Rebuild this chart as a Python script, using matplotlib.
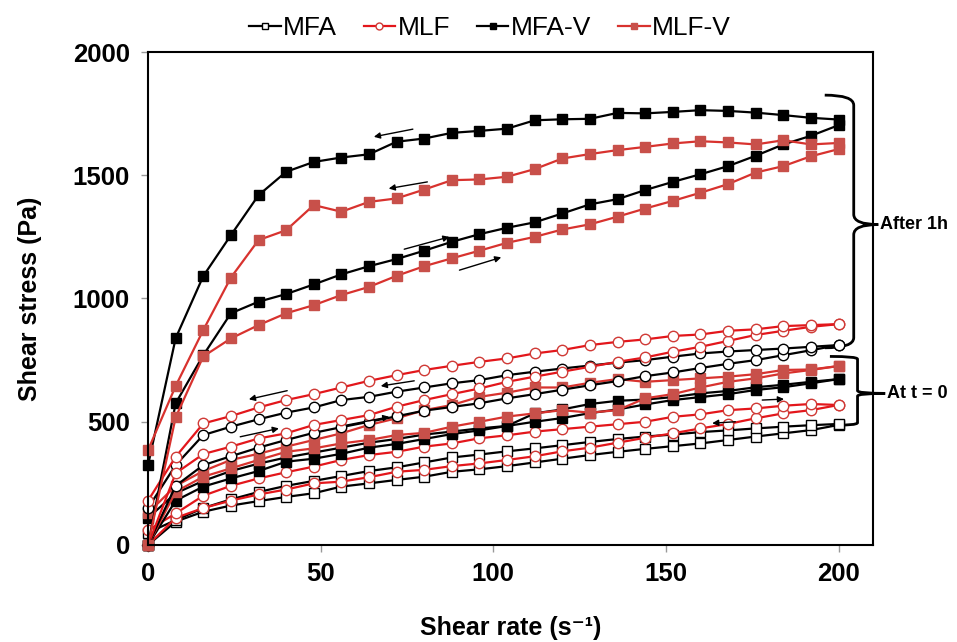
import matplotlib
matplotlib.use("Agg")
import matplotlib.pyplot as plt
from matplotlib.path import Path
from matplotlib.patches import PathPatch
from matplotlib.lines import Line2D

plt.rcParams['font.family'] = ['Liberation Sans', 'DejaVu Sans']

# shear rate grid (s-1), same for every curve
shear_rate = [0, 8, 16, 24, 32, 40, 48, 56, 64, 72, 80, 88, 96,
              104, 112, 120, 128, 136, 144, 152, 160, 168, 176, 184, 192, 200]

# ---- after 1h ----
mfa_v_1h_up = [0, 575, 770, 940, 987, 1018, 1057, 1098, 1131, 1160, 1194, 1230, 1261,
               1287, 1309, 1345, 1382, 1403, 1440, 1473, 1504, 1537, 1579, 1625, 1660, 1703]
mfa_v_1h_down = [324, 839, 1091, 1257, 1419, 1514, 1554, 1572, 1585, 1636, 1649, 1672, 1680,
                 1689, 1723, 1727, 1729, 1753, 1751, 1757, 1764, 1761, 1754, 1744, 1733, 1726]
mlf_v_1h_up = [0, 518, 765, 838, 892, 940, 973, 1014, 1047, 1092, 1131, 1163, 1194,
               1226, 1250, 1280, 1301, 1332, 1365, 1396, 1429, 1464, 1511, 1537, 1577, 1606]
mlf_v_1h_down = [385, 645, 872, 1085, 1237, 1277, 1379, 1352, 1392, 1406, 1442, 1480, 1483,
                 1494, 1525, 1568, 1586, 1602, 1615, 1629, 1638, 1633, 1625, 1642, 1625, 1631]
mlf_1h_up = [0, 291, 369, 399, 432, 453, 487, 507, 527, 561, 588, 612, 635,
             662, 683, 703, 723, 743, 761, 784, 804, 828, 852, 869, 885, 896]
mlf_1h_down = [180, 358, 493, 523, 558, 588, 612, 639, 666, 689, 710, 727, 743,
               757, 777, 791, 811, 824, 834, 848, 854, 869, 875, 888, 892, 896]
mfa_1h_up = [0, 240, 324, 360, 395, 426, 455, 478, 500, 522, 545, 560, 575,
             595, 612, 630, 648, 665, 685, 700, 718, 735, 750, 770, 790, 811]
mfa_1h_down = [150, 324, 446, 480, 510, 537, 558, 588, 601, 622, 639, 656, 669,
               689, 703, 716, 728, 740, 750, 764, 777, 785, 791, 797, 804, 811]

# ---- at t = 0 ----
mlf_v_0_up = [0, 216, 277, 311, 345, 378, 392, 412, 426, 446, 455, 480, 500,
              521, 534, 547, 537, 547, 595, 612, 639, 662, 676, 696, 710, 726]
mlf_v_0_down = [130, 240, 300, 345, 370, 399, 426, 453, 487, 514, 547, 568, 601,
                618, 639, 639, 658, 673, 662, 669, 676, 683, 693, 710, 712, 726]
mfa_v_0_up = [0, 180, 237, 270, 300, 338, 350, 370, 395, 410, 430, 450, 465,
              483, 500, 515, 535, 550, 570, 588, 600, 612, 629, 640, 656, 673]
mfa_v_0_down = [110, 210, 260, 300, 330, 355, 375, 395, 415, 430, 448, 460, 473,
                483, 534, 550, 572, 585, 590, 600, 615, 625, 640, 650, 662, 673]
mlf_0_up = [0, 110, 150, 180, 205, 225, 250, 257, 275, 297, 305, 320, 331,
            345, 360, 380, 395, 415, 435, 453, 473, 491, 514, 534, 547, 568]
mlf_0_down = [60, 128, 200, 240, 270, 295, 318, 345, 365, 378, 399, 412, 433,
              445, 460, 470, 480, 490, 500, 520, 530, 547, 554, 565, 572, 568]
mfa_0_up = [0, 95, 135, 160, 178, 195, 210, 237, 250, 264, 277, 297, 307,
            320, 335, 350, 365, 378, 390, 401, 412, 426, 440, 453, 466, 487]
mfa_0_down = [50, 101, 150, 185, 215, 240, 260, 280, 300, 315, 335, 355, 367,
              380, 392, 405, 418, 430, 440, 448, 458, 465, 473, 480, 486, 491]

legend_labels = ['MFA', 'MLF', 'MFA-V', 'MLF-V']

BLACK = '#000000'
RED = '#E3161B'
RED_EDGE = '#D03A36'
RED_V = '#D8322E'
RED_V_FILL = '#C8504A'

sty_mfa = dict(color=BLACK, marker='s', ms=7, mfc='white', mec=BLACK, mew=1.0, lw=1.6)
sty_mfa_c = dict(color=BLACK, marker='o', ms=7.5, mfc='white', mec=BLACK, mew=1.0, lw=1.6)
sty_mlf = dict(color=RED, marker='o', ms=7.5, mfc='white', mec=RED_EDGE, mew=1.0, lw=1.6)
sty_mfa_v = dict(color=BLACK, marker='s', ms=7, mfc=BLACK, mec=BLACK, lw=1.6)
sty_mlf_v = dict(color=RED_V, marker='s', ms=7, mfc=RED_V_FILL, mec=RED_V_FILL, lw=1.6)

fig = plt.figure(figsize=(9.57, 6.42), dpi=100)
ax = fig.add_axes([0.1547, 0.1511, 0.7576, 0.7679])

curves = [
    (mfa_0_up, sty_mfa), (mfa_0_down, sty_mfa),
    (mlf_0_up, sty_mlf), (mlf_0_down, sty_mlf),
    (mfa_v_0_up, sty_mfa_v), (mfa_v_0_down, sty_mfa_v),
    (mlf_v_0_up, sty_mlf_v), (mlf_v_0_down, sty_mlf_v),
    (mfa_1h_up, sty_mfa_c), (mfa_1h_down, sty_mfa_c),
    (mlf_1h_up, sty_mlf), (mlf_1h_down, sty_mlf),
    (mfa_v_1h_up, sty_mfa_v), (mfa_v_1h_down, sty_mfa_v),
    (mlf_v_1h_up, sty_mlf_v), (mlf_v_1h_down, sty_mlf_v),
]
for ys, st in curves:
    ax.plot(shear_rate, ys, clip_on=False, **st)

ax.set_xlim(0, 210)
ax.set_ylim(0, 2000)
ax.set_xticks([0, 50, 100, 150, 200])
ax.set_yticks([0, 500, 1000, 1500, 2000])
ax.tick_params(direction='out', length=5, width=1, color='#999999', labelsize=18.5)
ax.tick_params(axis='x', pad=7)
ax.tick_params(axis='y', pad=8)
for lab in ax.get_xticklabels() + ax.get_yticklabels():
    lab.set_fontweight('bold')
for sp in ax.spines.values():
    sp.set_linewidth(1.5)
    sp.set_color('black')

ax.set_xlabel('Shear rate (s\u207b\u00b9)', fontsize=18, fontweight='bold', labelpad=22)
ax.set_ylabel('Shear stress (Pa)', fontsize=18, fontweight='bold', labelpad=22)

# direction arrows (tail -> head)
arrows = [((76.7, 1687), (65.4, 1656)), ((80.9, 1473), (69.7, 1446)),
          ((74.2, 1200), (87.3, 1250)), ((90.2, 1115), (102.3, 1167)),
          ((40.3, 626), (29.2, 591)), ((77.1, 666), (67.4, 645)),
          ((26.7, 439), (37.9, 473)), ((57.7, 487), (69.9, 520)),
          ((177.9, 588), (184.2, 592)), ((170.1, 500), (163.4, 494))]
for tail, head in arrows:
    ax.annotate('', xy=head, xytext=tail,
                arrowprops=dict(arrowstyle='-|>', color='black', lw=1.0,
                                mutation_scale=9, shrinkA=0, shrinkB=0))


def brace(x0, xv, xt, ytop, ybot, ytip):
    r = (ytop - ybot) * 0.04
    verts = [(x0, ytop), (xv, ytop), (xv, ytop - r),
             (xv, ytip + r), (xv, ytip), (xt, ytip),
             (xv, ytip), (xv, ytip - r),
             (xv, ybot + r), (xv, ybot), (x0, ybot)]
    codes = [Path.MOVETO, Path.CURVE3, Path.CURVE3,
             Path.LINETO, Path.CURVE3, Path.CURVE3,
             Path.CURVE3, Path.CURVE3,
             Path.LINETO, Path.CURVE3, Path.CURVE3]
    ax.add_patch(PathPatch(Path(verts, codes), fill=False, lw=2.0,
                           ec='black', clip_on=False))


brace(196.0, 204.4, 211.5, 1825, 800, 1300)
brace(197.5, 205.5, 213.5, 765, 485, 615)
ax.text(212.0, 1300, 'After 1h', fontsize=13, fontweight='bold', va='center', ha='left')
ax.text(214.0, 615, 'At t = 0', fontsize=13, fontweight='bold', va='center', ha='left')

handles = [Line2D([], [], **sty_mfa), Line2D([], [], **sty_mlf),
           Line2D([], [], **sty_mfa_v), Line2D([], [], **sty_mlf_v)]
for h in handles:
    h.set_markersize(5)
fig.legend(handles, legend_labels, loc='center', bbox_to_anchor=(0.512, 0.956),
           ncol=4, frameon=False, fontsize=19, handlelength=1.2,
           handletextpad=0.1, columnspacing=1.0)

fig.savefig('out.png', dpi=100)
